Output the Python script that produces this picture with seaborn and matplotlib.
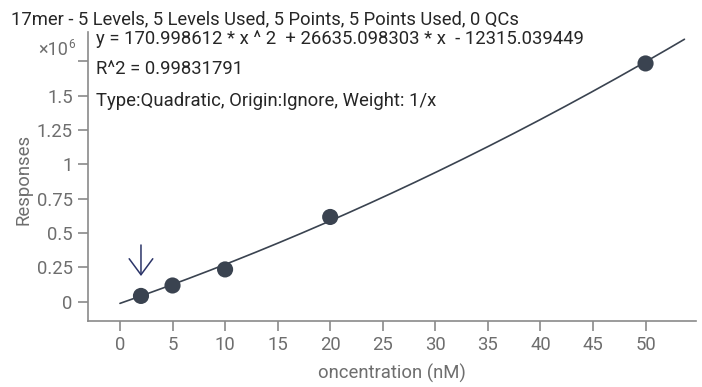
import numpy as np
import pandas as pd
import matplotlib
matplotlib.use("Agg")
import matplotlib.pyplot as plt
import seaborn as sns
from matplotlib.font_manager import FontProperties

# ---- data ----
concentration = [2, 5, 10, 20, 50]
responses = [42000, 118000, 235000, 617000, 1735000]
fit_coefs = [170.998612, 26635.098303, -12315.039449]  # quadratic fit shown in the chart
fit_range = [0, 53.7]
x_ticks = [0, 5, 10, 15, 20, 25, 30, 35, 40, 45, 50]
y_ticks = [0, 250000, 500000, 750000, 1000000, 1250000, 1500000, 1750000]
y_tick_labels = ["0", "0.25", "0.5", "0.75", "1", "1.25", "1.5", ""]
title = "17mer - 5 Levels, 5 Levels Used, 5 Points, 5 Points Used, 0 QCs"
eq_lines = ["y = 170.998612 * x ^ 2  + 26635.098303 * x  - 12315.039449",
            "R^2 = 0.99831791",
            "Type:Quadratic, Origin:Ignore, Weight: 1/x"]
x_label = "oncentration (nM)"
y_label = "Responses"
arrow_x = 2

sns.set_theme(style="ticks")
plt.rcParams["font.family"] = ["Roboto", "DejaVu Sans"]

W, H = 702, 387
fig = plt.figure(figsize=(W / 100, H / 100), dpi=100)
ax = fig.add_axes([88 / W, 1 - 321 / H, (696 - 88) / W, (321 - 32) / H])

pts = pd.DataFrame({"conc": concentration, "resp": responses})
xs = np.linspace(fit_range[0], fit_range[1], 200)
curve = pd.DataFrame({"conc": xs, "resp": np.polyval(fit_coefs, xs)})

dark = "#3a4350"
sns.lineplot(data=curve, x="conc", y="resp", ax=ax, color=dark, lw=1.2)
sns.scatterplot(data=pts, x="conc", y="resp", ax=ax, color=dark, s=135,
                edgecolor="none", zorder=3)

ax.set_xlim(-3.04, 54.8)
ax.set_ylim(-140600, 1964000)
ax.set_xticks(x_ticks)
ax.set_yticks(y_ticks)
ax.set_yticklabels(y_tick_labels)

grey = "#6e6e6e"
axis_grey = "#8a8a8a"
text_dark = "#262626"
for s in ["top", "right"]:
    ax.spines[s].set_visible(False)
for s in ["left", "bottom"]:
    ax.spines[s].set_color(axis_grey)
    ax.spines[s].set_linewidth(1.2)
ax.tick_params(axis="both", colors=axis_grey, length=7, width=1.2,
               labelcolor=grey, labelsize=13.3, pad=4)

ax.set_xlabel(x_label, color=grey, fontsize=13.3, labelpad=7)
ax.set_ylabel(y_label, color=grey, fontsize=13.3)
ax.yaxis.set_label_coords(-0.091, 0.491)

# ---- font sizes fitted to the text widths measured on the reference ----
renderer = fig.canvas.get_renderer()


def width_px(s, size):
    prop = FontProperties(family=["Roboto", "DejaVu Sans"], size=size)
    return renderer.get_text_width_height_descent(s, prop, ismath=False)[0]


title_size = 10 * 335 / width_px("17mer - 5 Levels, 5 Levels Used, 5 Points,", 10)
eq_size = 10 * 488 / width_px(eq_lines[0], 10)
title_size = min(max(title_size, 11), 14.5)
eq_size = min(max(eq_size, 11), 14.5)

fig.text(11 / W, 1 - 24 / H, title, fontsize=title_size, color=text_dark,
         ha="left", va="baseline")
for line, base in zip(eq_lines, [44.5, 74.5, 105.5]):
    fig.text(96 / W, 1 - base / H, line, fontsize=eq_size, color=text_dark,
             ha="left", va="baseline")

fig.text(68 / W, 1 - 55 / H, "×10", fontsize=13, color=grey, ha="right", va="baseline")
fig.text(68.5 / W, 1 - 48 / H, "6", fontsize=8.5, color=grey, ha="left", va="baseline")

# arrow pointing at the lowest point
ax.annotate("", xy=(arrow_x, 187000), xytext=(arrow_x, 413000),
            arrowprops=dict(arrowstyle="->,head_length=1.15,head_width=0.85",
                            mutation_scale=10, color="#2b3468", lw=1.1,
                            shrinkA=0, shrinkB=0))

fig.savefig("out.png", dpi=100)
